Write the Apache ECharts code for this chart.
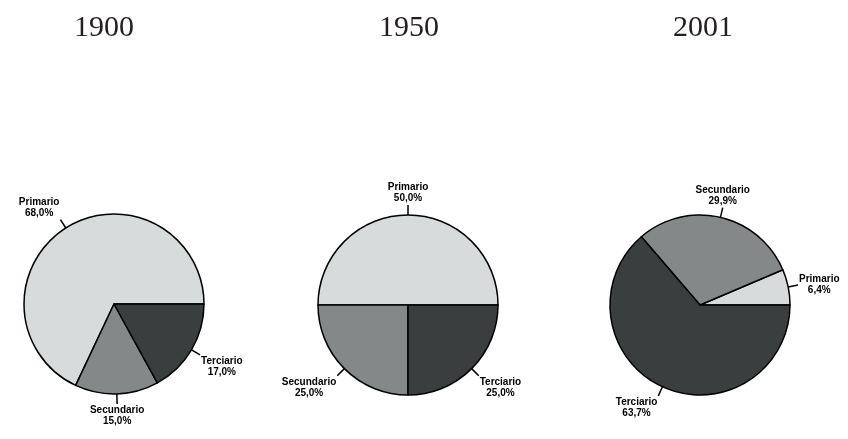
<!DOCTYPE html>
<html>
<head>
<meta charset="utf-8">
<script src="https://cdn.jsdelivr.net/npm/echarts@6/dist/echarts.min.js"></script>
<style>html,body{margin:0;padding:0;background:#fff;}#c{width:848px;height:439px;}</style>
</head>
<body>
<div id="c"></div>
<script>
const years = ['1900', '1950', '2001'];
const sectors = ['Primario', 'Secundario', 'Terciario'];
const values1900 = [68.0, 15.0, 17.0];
const values1950 = [50.0, 25.0, 25.0];
const values2001 = [6.4, 29.9, 63.7];
const sectorColors = ['#d8dbdb', '#858889', '#3b3e3f'];

const allValues = [values1900, values1950, values2001];
const centers = [[114, 304], [408, 305], [700, 305]];
const titleX = [99, 404, 698];

const chart = echarts.init(document.getElementById('c'));
const fmt = v => v.toFixed(1).replace('.', ',') + '%';

function cornerLayout(params) {
  const pts = params.labelLinePoints;
  if (!pts || pts.length < 2) return {};
  const p0 = pts[0], p1 = pts[1];
  const w = params.labelRect ? params.labelRect.width : 0;
  let dx = p1[0] - p0[0], dy = p1[1] - p0[1];
  const len = Math.hypot(dx, dy) || 1;
  dx /= len; dy /= len;
  let x, verticalAlign, y;
  if (Math.abs(dx) < 0.35) { x = p1[0]; }
  else if (dx > 0) { x = p1[0] + 1 + w / 2; }
  else { x = p1[0] - 1 - w / 2; }
  if (Math.abs(dy) < 0.35) { verticalAlign = 'middle'; y = p1[1]; }
  else if (dy > 0) { verticalAlign = 'top'; y = p1[1] + 1; }
  else { verticalAlign = 'bottom'; y = p1[1] - 1; }
  return { x, y, align: 'center', verticalAlign, labelLinePoints: [p0, p1, p1] };
}

chart.setOption({
  animation: false,
  title: years.map((y, i) => ({
    text: y,
    left: titleX[i],
    top: 8,
    textAlign: 'center',
    textStyle: { fontFamily: 'Liberation Serif', fontWeight: 'normal', fontSize: 30, color: '#231f20' }
  })),
  series: allValues.map((vals, i) => ({
    type: 'pie',
    center: centers[i],
    radius: 90,
    startAngle: 0,
    clockwise: false,
    avoidLabelOverlap: false,
    data: sectors.map((s, j) => ({ name: s, value: vals[j], itemStyle: { color: sectorColors[j] } })),
    itemStyle: { borderColor: '#000', borderWidth: 1.5 },
    label: {
      show: true,
      position: 'outside',
      formatter: p => p.name + '\n' + fmt(p.value),
      fontFamily: 'Liberation Sans',
      fontWeight: 'bold',
      fontSize: 10,
      lineHeight: 11,
      color: '#000'
    },
    labelLine: { show: true, length: 10, length2: 0, lineStyle: { color: '#000', width: 1.5 } },
    labelLayout: cornerLayout,
    emphasis: { disabled: true }
  }))
});
</script>
</body>
</html>
